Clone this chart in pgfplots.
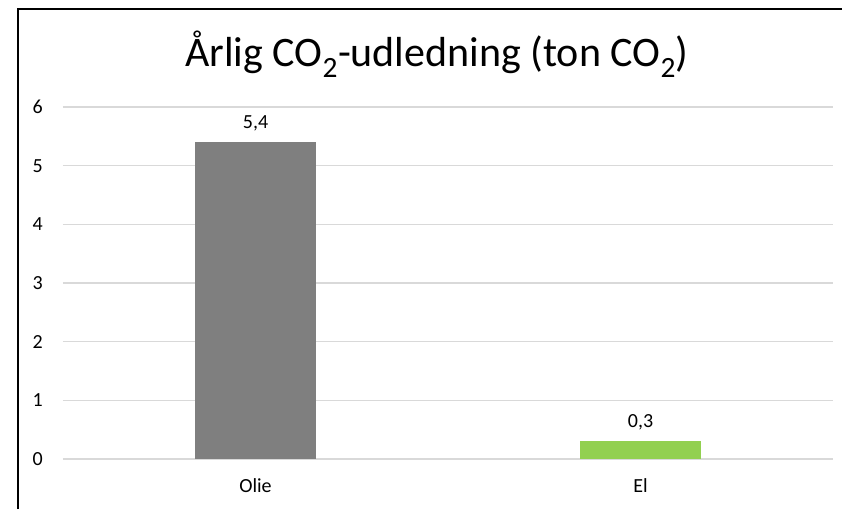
\documentclass[border=0pt]{standalone}
\usepackage{fontspec}
\setmainfont{Carlito}
\usepackage{pgfplots}
\pgfplotsset{compat=1.18}
\definecolor{barGray}{HTML}{7F7F7F}
\definecolor{barGreen}{HTML}{92D050}
\definecolor{gridGray}{HTML}{D9D9D9}
\begin{document}
\begin{tikzpicture}
\begin{axis}[
    scale only axis,
    width=770pt, height=352pt,
    ybar, bar width=121pt, bar shift=0pt,
    xmin=-0.5, xmax=1.5,
    ymin=0, ymax=6,
    ytick={0,1,...,6},
    xtick={0,1},
    xticklabels={Olie, El},
    ymajorgrids,
    grid style={gridGray, line width=1.3pt},
    axis line style={draw=none},
    major tick length=0pt,
    tick label style={font=\fontsize{20}{24}\selectfont},
    yticklabel style={inner sep=0pt, xshift=-20pt},
    xticklabel style={inner sep=0pt, anchor=north, yshift=-19pt},
    /pgf/number format/assume math mode=true,
    nodes near coords={\pgfmathprintnumber[fixed, fixed zerofill, precision=1, use comma]{\pgfplotspointmeta}},
    every node near coord/.append style={font=\fontsize{20}{24}\selectfont, anchor=base, inner sep=0pt, yshift=14pt},
]
\addplot[fill=barGray, draw=none] coordinates {(0,5.4)};
\addplot[fill=barGreen, draw=none] coordinates {(1,0.3)};
\end{axis}
% chart frame (only top and left edge visible)
\draw[line width=2.5pt] (-45.2pt,-50pt) -- (-45.2pt,449.8pt) -- (779pt,449.8pt);
\node[font=\fontsize{42}{50}\selectfont, anchor=base, inner sep=0pt] at (374pt,392pt)
  {Årlig CO\textsubscript{2}-udledning (ton CO\textsubscript{2})};
\pgfresetboundingbox
\useasboundingbox (-63pt,-50pt) rectangle (782pt,459pt);
\end{tikzpicture}
\end{document}
